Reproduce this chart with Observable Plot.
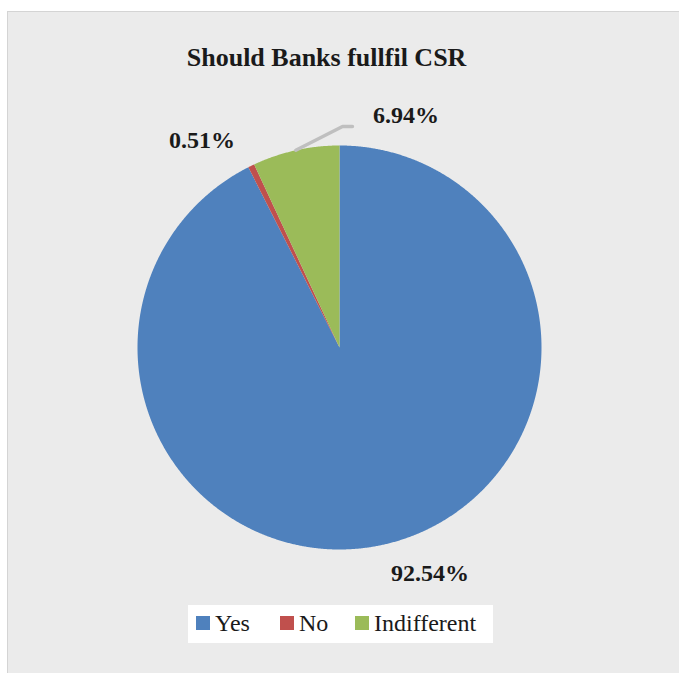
<!DOCTYPE html>
<html>
<head>
<meta charset="utf-8">
<script src="https://cdn.jsdelivr.net/npm/d3@7"></script>
<script src="https://cdn.jsdelivr.net/npm/@observablehq/plot@0.6"></script>
<style>
  html, body { margin: 0; padding: 0; background: #ffffff; }
  #wrap { position: relative; width: 679px; height: 673px; background: #ffffff; overflow: hidden; }
  #panel { position: absolute; left: 7px; top: 11px; width: 680px; height: 680px; background: #ebebeb; border: 1px solid #d4d4d4; box-sizing: border-box; }
  #chart { position: absolute; left: 0; top: 0; }
  #legend { position: absolute; left: 188px; top: 605px; width: 305px; height: 38px; background: #ffffff;
            font-family: "Liberation Serif", "Times New Roman", serif; font-size: 24px; color: #1a1a1a; }
  .item { position: absolute; top: 0; height: 38px; }
  .sw { position: absolute; top: 11px; width: 14px; height: 14px; }
  .lb { position: absolute; top: 3px; white-space: nowrap; line-height: 30px; }
</style>
</head>
<body>
<div id="wrap">
  <div id="panel"></div>
  <div id="chart"></div>
  <div id="legend"></div>
</div>
<script>
// ---- data ----
const title = "Should Banks fullfil CSR";
const categories = ["Yes", "No", "Indifferent"];
const values = [92.54, 0.51, 6.94];
const valueLabels = ["92.54%", "0.51%", "6.94%"];
const colors = ["#4f81bd", "#c0504d", "#9bbb59"];

// ---- layout (unit-circle coordinates, radius = 1) ----
const labelPos = [[0.448, -1.120], [-0.681, 1.028], [0.329, 1.147]];
const titlePos = [-0.064, 1.437];
const leaderBend = [[0.015, 1.094], [0.064, 1.094]];

// compute slice polygons (clockwise from 12 o'clock)
const total = d3.sum(values);
const slices = [];
const polys = [];
let acc = 0;
categories.forEach((c, i) => {
  const a0 = acc / total * 2 * Math.PI;
  acc += values[i];
  const a1 = acc / total * 2 * Math.PI;
  slices.push({cat: c, a0, a1, mid: (a0 + a1) / 2});
  polys.push({cat: c, x: 0, y: 0});
  const n = Math.max(2, Math.ceil((a1 - a0) / (Math.PI / 720)));
  for (let k = 0; k <= n; k++) {
    const a = a0 + (a1 - a0) * k / n;
    polys.push({cat: c, x: Math.sin(a), y: Math.cos(a)});
  }
  polys.push({cat: c, x: 0, y: 0});
});

const labels = categories.map((c, i) => ({cat: c, text: valueLabels[i], x: labelPos[i][0], y: labelPos[i][1]}));

// leader line for the "Indifferent" label
const ind = slices[2];
const leader = [
  {x: Math.sin(ind.mid) * 1.0, y: Math.cos(ind.mid) * 1.0},
  {x: leaderBend[0][0], y: leaderBend[0][1]},
  {x: leaderBend[1][0], y: leaderBend[1][1]}
];

const font = "Liberation Serif, Times New Roman, serif";

const plot = Plot.plot({
  width: 679,
  height: 673,
  margin: 0,
  style: {background: "transparent", overflow: "visible"},
  x: {domain: [-1, 1], range: [137, 541], axis: null},
  y: {domain: [-1, 1], range: [549, 145], axis: null},
  color: {domain: categories, range: colors},
  marks: [
    Plot.line(polys, {x: "x", y: "y", z: "cat", fill: "cat", stroke: "none", curve: "linear-closed"}),
    Plot.line(leader, {x: "x", y: "y", stroke: "#bfbfbf", strokeWidth: 3.5}),
    Plot.text(labels, {x: "x", y: "y", text: "text", fontFamily: font, fontSize: 24, fontWeight: "bold",
      fill: "#1a1a1a", textAnchor: "middle", lineAnchor: "middle"}),
    Plot.text([title], {x: () => titlePos[0], y: () => titlePos[1], text: d => d, fontFamily: font,
      fontSize: 26, fontWeight: "bold", fill: "#1a1a1a", textAnchor: "middle", lineAnchor: "middle"})
  ]
});
document.getElementById("chart").appendChild(plot);

// legend
const legendX = [8, 92, 167];
const legend = document.getElementById("legend");
categories.forEach((c, i) => {
  const it = document.createElement("div");
  it.className = "item";
  it.style.left = legendX[i] + "px";
  const sw = document.createElement("div");
  sw.className = "sw";
  sw.style.left = "0px";
  sw.style.background = colors[i];
  const lb = document.createElement("div");
  lb.className = "lb";
  lb.style.left = "19px";
  lb.textContent = c;
  it.appendChild(sw); it.appendChild(lb);
  legend.appendChild(it);
});
</script>
</body>
</html>
